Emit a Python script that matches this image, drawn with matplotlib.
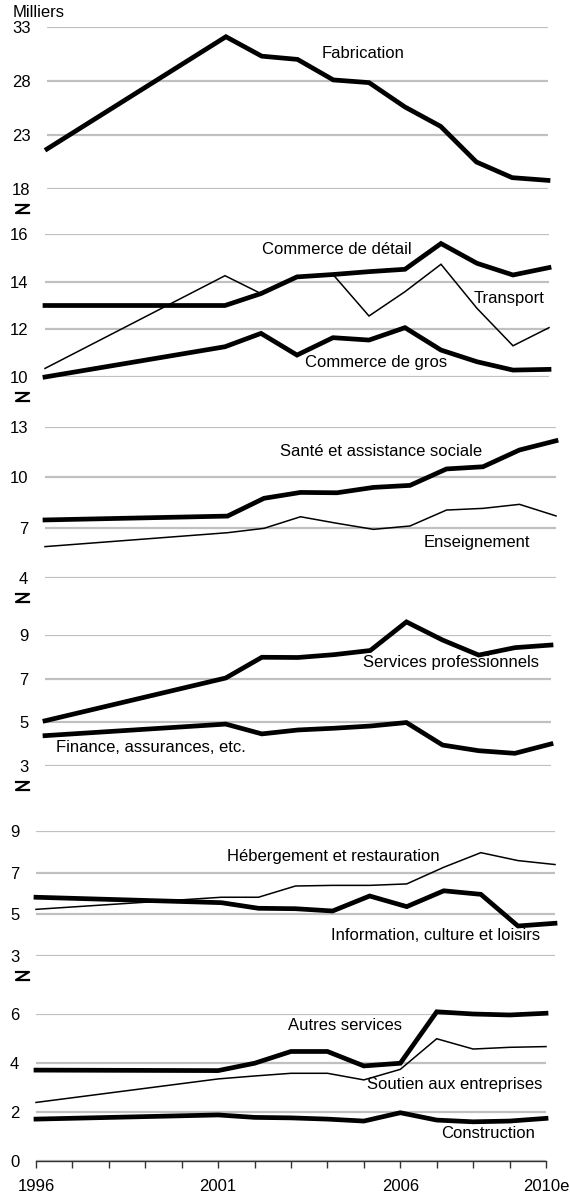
import matplotlib
matplotlib.use('Agg')
import matplotlib.pyplot as plt
from matplotlib.lines import Line2D

plt.rcParams['font.family'] = ['Liberation Sans', 'DejaVu Sans']
plt.rcParams['font.size'] = 12

W, H = 570, 1200

years = [1996, 2001, 2002, 2003, 2004, 2005, 2006, 2007, 2008, 2009, 2010]

# panel 1
fabrication = [21.7, 32.1, 30.3, 30.0, 28.1, 27.85, 25.6, 23.8, 20.5, 19.05, 18.8]
# panel 2
commerce_detail = [13.0, 13.0, 13.5, 14.2, 14.3, 14.42, 14.52, 15.6, 14.77, 14.28, 14.59]
transport = [10.36, 14.25, 13.5, 14.2, 14.3, 12.56, 13.58, 14.73, 12.88, 11.31, 12.07]
commerce_gros = [10.0, 11.27, 11.83, 10.92, 11.65, 11.55, 12.07, 11.13, 10.64, 10.29, 10.32]
# panel 3
sante = [7.46, 7.69, 8.75, 9.1, 9.08, 9.4, 9.52, 10.5, 10.63, 11.63, 12.18]
enseignement = [5.87, 6.7, 6.96, 7.65, 7.26, 6.9, 7.1, 8.05, 8.15, 8.39, 7.7]
# panel 4
services_pro = [5.07, 7.03, 7.98, 7.97, 8.1, 8.29, 9.6, 8.77, 8.08, 8.42, 8.54]
finance = [4.39, 4.92, 4.47, 4.65, 4.73, 4.83, 4.99, 3.96, 3.7, 3.58, 4.01]
# panel 5
hebergement = [5.24, 5.82, 5.82, 6.36, 6.39, 6.39, 6.46, 7.26, 7.96, 7.58, 7.39]
information = [5.82, 5.56, 5.29, 5.27, 5.16, 5.88, 5.37, 6.13, 5.96, 4.44, 4.57]
# panel 6
autres = [3.71, 3.69, 3.99, 4.47, 4.47, 3.88, 3.99, 6.09, 6.0, 5.96, 6.03]
soutien = [2.39, 3.35, 3.47, 3.58, 3.58, 3.31, 3.74, 4.99, 4.57, 4.64, 4.67]
construction = [1.71, 1.88, 1.78, 1.76, 1.71, 1.63, 1.97, 1.67, 1.6, 1.63, 1.74]

xticks = list(range(1996, 2011))
xlabels = {1996: '1996', 2001: '2001', 2006: '2006', 2010: '2010e'}

THICK, THIN = 3.4, 1.1

# (pixel box x0, x1, ytop, ybottom), y ticks, series [(values, lw, label, label_x, label_y)]
panels = [
    ((47, 548, 27, 189), [18, 23, 28, 33],
     [(fabrication, THICK, 'Fabrication', 322, 53)]),
    ((45, 549, 234, 377), [10, 12, 14, 16],
     [(transport, THIN, 'Transport', 474, 298),
      (commerce_detail, THICK, 'Commerce de détail', 262, 249),
      (commerce_gros, THICK, 'Commerce de gros', 305, 363)]),
    ((45, 556, 427, 578), [4, 7, 10, 13],
     [(enseignement, THIN, 'Enseignement', 424, 542),
      (sante, THICK, 'Santé et assistance sociale', 280, 452)]),
    ((45, 551, 635, 766), [3, 5, 7, 9],
     [(services_pro, THICK, 'Services professionnels', 363, 663),
      (finance, THICK, 'Finance, assurances, etc.', 56, 747)]),
    ((36, 555, 831, 956), [3, 5, 7, 9],
     [(hebergement, THIN, 'Hébergement et restauration', 227, 857),
      (information, THICK, 'Information, culture et loisirs', 331, 936)]),
    ((36, 546, 1014, 1161), [0, 2, 4, 6],
     [(soutien, THIN, 'Soutien aux entreprises', 367, 1084),
      (autres, THICK, 'Autres services', 288, 1026),
      (construction, THICK, 'Construction', 441, 1134)]),
]

fig = plt.figure(figsize=(W / 100, H / 100), dpi=100)

for i, (box, yt, series) in enumerate(panels):
    x0, x1, ytop, ybot = box
    ax = fig.add_axes([x0 / W, 1 - ybot / H, (x1 - x0) / W, (ybot - ytop) / H])
    ax.set_xlim(1996, 2010)
    ax.set_ylim(yt[0], yt[-1])
    ax.set_yticks(yt)
    ax.yaxis.grid(True, color='#c0c0c0', lw=1.6)
    ax.set_axisbelow(True)
    ax.tick_params(axis='y', length=0, pad=12, labelsize=12)
    for s in ['top', 'right', 'left']:
        ax.spines[s].set_visible(False)
    last = i == len(panels) - 1
    if last:
        ax.spines['bottom'].set_color('#333333')
        ax.spines['bottom'].set_linewidth(1)
        ax.spines['bottom'].set_zorder(5)
        ax.set_xticks(xticks)
        ax.set_xticklabels([xlabels.get(y, '') for y in xticks])
        ax.tick_params(axis='x', length=5, width=1, color='#333333', pad=8, labelsize=12)
    else:
        ax.spines['bottom'].set_visible(False)
        ax.set_xticks([])
    for vals, lw, lab, lx, ly in series:
        ax.plot(years, vals, color='black', lw=lw, clip_on=False,
                solid_joinstyle='miter', zorder=3)
        fig.text(lx / W, 1 - ly / H, lab, ha='left', va='center', fontsize=12)
    if not last:
        # axis break mark under the bottom tick label
        zx0, zx1 = 16, 29
        zt, zb = ybot + 16, ybot + 24
        fig.add_artist(Line2D([zx0 / W, zx1 / W, zx0 / W, zx1 / W],
                              [1 - zt / H, 1 - zt / H, 1 - zb / H, 1 - zb / H],
                              color='black', lw=1.6))

fig.text(13 / W, 1 - 17 / H, 'Milliers', ha='left', va='baseline', fontsize=12)

fig.savefig('out.png', dpi=100)
